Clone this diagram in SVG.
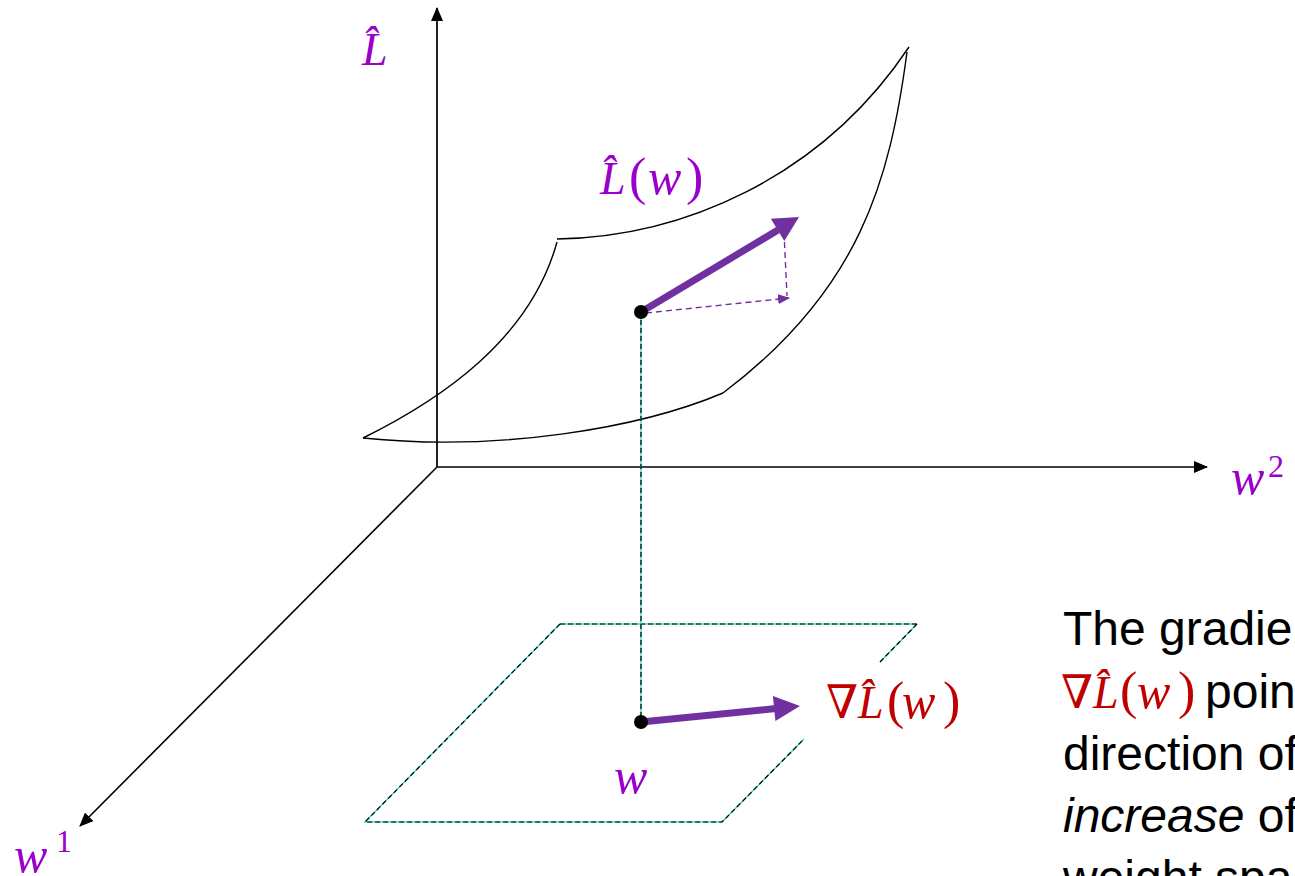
<svg xmlns="http://www.w3.org/2000/svg" width="1295" height="876" viewBox="0 0 1295 876">
<style>
.axis{stroke:#000;stroke-width:1.6;fill:none}
.surf{stroke:#000;stroke-width:1.4;fill:none}
.teal{stroke:#38D8C8;stroke-width:1.4;fill:none}
.dash{stroke:#000;stroke-width:1.2;fill:none;stroke-dasharray:5 3}
.pdash{stroke:#7030A0;stroke-width:1.4;fill:none;stroke-dasharray:6 4}
.math{font-family:"Liberation Serif","DejaVu Serif",serif;font-style:italic}
.up{font-style:normal}
.purple{fill:#9900CC}
.red{fill:#C00000}
.body{font-family:"Liberation Sans",Arial,sans-serif;font-size:48px;fill:#000}
</style>
<defs>
<marker id="ah" markerWidth="14" markerHeight="12" refX="13" refY="6" orient="auto" markerUnits="userSpaceOnUse">
<path d="M0,0 L14,6 L0,12 Z" fill="#000"/>
</marker>
<marker id="pah" markerWidth="12" markerHeight="10" refX="11" refY="5" orient="auto" markerUnits="userSpaceOnUse">
<path d="M0,0 L12,5 L0,10 Z" fill="#7030A0"/>
</marker>
</defs>

<g id="axes">
<line class="axis" x1="437" y1="467" x2="437" y2="8" marker-end="url(#ah)" style="stroke:#222;stroke-width:2"/>
<line class="axis" x1="437" y1="467" x2="1207" y2="467" marker-end="url(#ah)"/>
<line class="axis" x1="437" y1="467" x2="80" y2="826" marker-end="url(#ah)"/>
</g>

<g id="surface">
<path class="surf" d="M557,239 C680,237 820,180 909,47"/>
<path class="surf" d="M907,52 C890,180 860,290 723,393"/>
<path class="surf" d="M723,393 C640,428 500,452 363,438"/>
<path class="surf" d="M363,438 C440,400 530,340 557,242"/>
</g>

<g id="plane">
<path class="teal" d="M560,624 L917,624 M560,624 L365,822 L722,822 L804,739 M917,624 L880,662"/>
<path class="dash" d="M560,624 L917,624 M560,624 L365,822 L722,822 L804,739 M917,624 L880,662"/>
</g>

<g id="connectors">
<line class="teal" x1="641" y1="312" x2="641" y2="722"/>
<line class="dash" x1="641" y1="312" x2="641" y2="722"/>
<line class="pdash" x1="646" y1="313" x2="789" y2="298" marker-end="url(#pah)"/>
<line class="pdash" x1="784" y1="232" x2="787" y2="296"/>
<line x1="641" y1="312" x2="778" y2="230" stroke="#7030A0" stroke-width="7"/>
<polygon points="799,217 784.3,241 770.9,218.8" fill="#7030A0"/>
<line x1="641" y1="722" x2="776" y2="708.5" stroke="#7030A0" stroke-width="7"/>
<polygon points="800,706 775.4,720.9 772.9,696.1" fill="#7030A0"/>
</g>

<g id="point-surface"><circle cx="641" cy="312" r="7" fill="#000"/></g>
<g id="point-w"><circle cx="641" cy="722" r="7" fill="#000"/></g>

<g id="label-L" class="purple">
<text class="math" x="362" y="65" font-size="46">L&#x302;</text>
</g>

<g id="label-Lw" class="purple">
<text class="math" font-size="46" y="194"><tspan x="600">L&#x302;</tspan><tspan class="up" x="629" font-size="52">(</tspan><tspan x="648" font-size="50">w</tspan><tspan class="up" x="686" font-size="52">)</tspan></text>
</g>

<g id="label-w2" class="purple">
<text class="math" x="1231" y="494" font-size="50">w</text>
<text class="math up" x="1268" y="477" font-size="32">2</text>
</g>

<g id="label-w1" class="purple">
<text class="math" x="14" y="872" font-size="50">w</text>
<text class="math up" x="56" y="852" font-size="32">1</text>
</g>

<g id="label-w" class="purple">
<text class="math" x="614" y="793" font-size="50">w</text>
</g>

<g id="label-grad" class="red">
<text class="math" font-size="46" y="718"><tspan class="up" x="826">∇</tspan><tspan x="858">L&#x302;</tspan><tspan class="up" x="887" font-size="52">(</tspan><tspan x="902" font-size="50">w</tspan><tspan class="up" x="943" font-size="52">)</tspan></text>
</g>

<g id="description">
<text class="body" x="1063" y="645">The gradient</text>
<text class="math red" font-size="46" y="708"><tspan class="up" x="1061">∇</tspan><tspan x="1093">L&#x302;</tspan><tspan class="up" x="1120" font-size="52">(</tspan><tspan x="1137" font-size="50">w</tspan><tspan class="up" x="1178" font-size="52">)</tspan></text>
<text class="body" x="1205" y="708">points</text>
<text class="body" x="1063" y="770">direction of</text>
<text class="body" x="1063" y="832"><tspan font-style="italic">increase</tspan> of</text>
<text class="body" x="1063" y="894">weight space</text>
</g>
</svg>
